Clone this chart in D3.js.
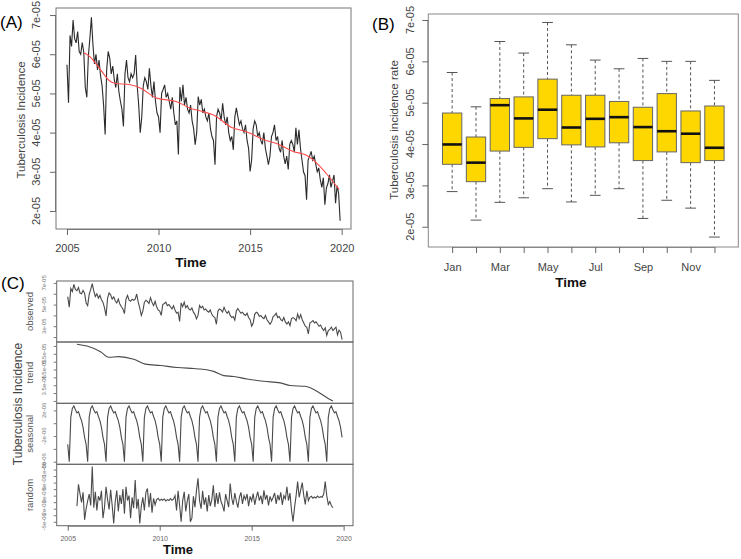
<!DOCTYPE html>
<html><head><meta charset="utf-8">
<script src="https://cdn.jsdelivr.net/npm/d3@7"></script>
<style>body{margin:0;background:#fff} text{font-family:"Liberation Sans",Arial,sans-serif}</style>
</head><body><svg id="c" width="741" height="559"></svg>
<script>
// ---------- DATA (values in units shown by names) ----------
const startYear = 2005;
// Monthly tuberculosis incidence, Jan 2005 - Dec 2019, in units of 1e-5
const observedE5 = [
 5.73,4.76,6.48,6.20,6.87,6.40,6.29,6.58,6.07,6.00,6.30,6.05,
 5.15,4.90,5.95,6.40,6.94,6.25,5.75,6.00,5.60,5.85,5.45,5.20,
 4.70,3.95,5.60,6.07,5.90,5.50,5.70,5.35,5.15,5.50,5.05,4.80,
 4.60,4.16,5.50,5.85,5.40,5.30,5.50,5.40,5.50,5.98,5.20,4.70,
 4.00,4.40,5.20,5.40,5.30,5.10,5.64,5.20,4.90,5.30,4.80,4.50,
 4.40,4.00,5.00,5.10,5.22,4.90,5.00,4.80,4.60,4.90,4.50,4.20,
 4.30,3.44,5.16,4.80,5.22,4.70,4.90,4.60,4.50,4.70,4.30,4.10,
 3.69,4.00,4.92,4.70,4.85,4.50,4.60,4.40,4.30,4.50,4.10,3.90,
 3.80,3.18,4.40,4.60,4.50,4.30,4.75,4.40,4.20,4.40,4.00,3.80,
 3.90,3.56,4.40,4.63,4.40,4.20,4.30,4.10,4.00,4.20,3.80,3.60,
 3.01,3.30,4.10,4.30,4.20,3.90,4.00,3.80,3.70,4.00,3.60,3.40,
 3.18,3.40,3.90,4.00,4.20,3.80,3.90,3.60,3.50,3.80,3.40,3.20,
 3.40,3.06,3.70,3.80,3.70,3.50,4.12,3.70,4.07,3.60,3.30,3.00,
 2.90,2.29,3.30,3.40,3.52,3.30,3.40,3.20,3.00,3.10,2.80,2.60,
 2.85,2.16,2.59,2.70,2.92,2.60,2.76,2.92,2.20,2.64,2.45,1.75
];
// Smoothed trend (red line, panel A), units 1e-5
const smoothYears = [2005.93,2006.25,2006.6,2007.0,2007.3,2007.6,2008.45,2009.0,2009.9,2011.0,2011.7,2012.3,2013.0,2014.0,2014.8,2015.7,2016.6,2017.35,2018.08,2018.6,2019.17,2019.86];
const smoothE5    = [6.04,5.94,5.75,5.50,5.33,5.26,5.22,5.14,4.88,4.79,4.63,4.55,4.45,4.13,4.02,3.83,3.69,3.52,3.42,3.24,2.95,2.55];

// Box plot by month (panel B), units 1e-5
const months = ["Jan","Feb","Mar","Apr","May","Jun","Jul","Aug","Sep","Oct","Nov","Dec"];
const monthLabelsShown = ["Jan","Mar","May","Jul","Sep","Nov"];
const boxLow    = [2.85,2.16,2.59,2.70,2.92,2.60,2.76,2.92,2.20,2.64,2.45,1.75];
const boxQ1     = [3.51,3.09,3.83,3.92,4.13,3.98,3.93,4.03,3.60,3.81,3.55,3.60];
const boxMedian = [3.99,3.55,4.94,4.62,4.83,4.40,4.61,4.65,4.41,4.31,4.25,3.91];
const boxQ3     = [4.75,4.17,5.10,5.14,5.57,5.18,5.18,5.03,4.89,5.22,4.80,4.92];
const boxHigh   = [5.73,4.90,6.48,6.20,6.94,6.40,6.03,5.82,6.07,6.00,6.00,5.54];

// Decomposition (panel C)
const trendYears = [2005.5,2006.05,2006.78,2007.23,2007.77,2008.59,2009.22,2010.03,2010.95,2011.85,2012.21,2012.93,2013.48,2014.02,2014.75,2015.65,2016.56,2017.1,2017.92,2018.55,2019.1,2019.42];
const trendE5    = [6.11,5.99,5.63,5.28,5.32,5.15,4.84,4.75,4.63,4.56,4.53,4.38,4.11,4.06,3.90,3.75,3.65,3.48,3.43,3.12,2.70,2.49];
const seasonalE6 = [-3.3,-6.0,0.9,2.3,2.7,2.1,1.6,1.8,1.05,0.4,-0.65,-2.2]; // Jan..Dec
const randomStartIndex = 6; // Jul 2005
const randomE6 = [
 -1.2,5.5,2.6,-0.1,3.0,-5.4,-2.0,0.4,2.5,-1.0,10.9,-1.7,3.2,-2.5,1.8,0.5,3.5,-4.9,-1.5,4.7,0.8,-2.2,3.8,-1.0,
 -6.5,0.2,3.6,-2.8,2.2,-0.5,4.0,-3.5,4.7,0.5,2.0,-4.9,1.5,-1.8,6.8,-2.0,1.0,-6.5,-1.2,1.5,-2.5,3.0,4.2,-1.5,
 2.8,-3.2,1.2,-0.8,0.8,1.2,0.5,0.9,0.6,1.0,0.4,0.8,0.5,1.1,0.6,0.9,2.0,-2.5,3.5,-1.0,-6.0,0.5,3.2,-2.8,
 0.4,2.5,-6.0,-4.9,1.8,-1.5,3.6,7.3,0.5,-2.0,3.5,-0.8,1.5,-2.8,2.2,-1.2,0.8,5.2,-1.5,2.8,-0.5,3.0,0.2,-1.0,
 -2.8,2.5,0.5,-1.5,5.7,1.2,-0.8,2.8,0.3,-1.7,1.5,3.0,-0.5,2.0,0.8,2.5,-1.2,1.8,0.4,2.6,-0.8,1.5,3.2,0.5,
 2.0,-0.6,3.6,0.8,2.2,-1.0,1.8,0.4,1.5,2.8,-0.5,2.2,0.6,3.0,-0.8,2.0,1.0,4.7,0.5,2.8,-2.5,-6.0,-1.5,2.0,
 6.3,1.5,3.8,6.0,2.0,-0.7,3.5,0.5,1.5,1.8,1.2,1.6,1.3,1.9,1.4,1.7,1.5,2.5,6.3,2.0,-0.7,0.2,-1.0,-1.7
];

// Axis ticks / labels
const yearTicks = [2005,2010,2015,2020];
const rateTicksE5 = [2,3,4,5,6,7];
const rateLabels = ["2e-05","3e-05","4e-05","5e-05","6e-05","7e-05"];
const obsTickE5 = [2,3,4,5,6,7], obsLabelE5 = [3,5,7], obsLabelText = ["3e-05","5e-05","7e-05"];
const trTickE5 = [2.5,3,3.5,4,4.5,5,5.5,6], trLabelE5 = [3.5,4.5,5.5], trLabelText = ["3.5e-05","4.5e-05","5.5e-05"];
const seTickE6 = [-6,-4,-2,0,2], seLabelE6 = [-6,-2,2], seLabelText = ["-6e-06","-2e-06","2e-06"];
const raTickE6 = [-6,-4,-2,0,2,4,6,8,10], raLabelE6 = [-6,-2,2,6,10], raLabelText = ["-6e-06","-2e-06","2e-06","6e-06","1e-05"];

// ---------- DRAW ----------
const svg = d3.select("#c");
svg.append("rect").attr("width",741).attr("height",559).attr("fill","#fff");
const t = i => startYear + i/12;

function rotText(g, x, y, txt, size, color, weight){
  return g.append("text").attr("transform",`translate(${x},${y}) rotate(-90)`)
    .attr("text-anchor","middle").attr("font-size",size).attr("fill",color)
    .attr("font-weight",weight||"normal").text(txt);
}

// ===== Panel A =====
{
  const x = d3.scaleLinear().domain([2004.40,2020.51]).range([56,351]);
  const y = d3.scaleLinear().domain([1.54,7.18]).range([229,8]);
  const g = svg.append("g");
  g.append("rect").attr("x",56).attr("y",8).attr("width",295).attr("height",221)
    .attr("fill","none").attr("stroke","#777").attr("stroke-width",1);
  const ln = d3.line().x((d,i)=>x(t(i))).y(d=>y(d));
  g.append("path").datum(observedE5).attr("d",ln).attr("fill","none").attr("stroke","#2a2a2a").attr("stroke-width",1.1);
  const rl = d3.line().x((d,i)=>x(smoothYears[i])).y(d=>y(d)).curve(d3.curveMonotoneX);
  g.append("path").datum(smoothE5).attr("d",rl).attr("fill","none").attr("stroke","#ff4d4d").attr("stroke-width",1.1);
  const xa = g.append("g").attr("transform","translate(0,229)")
    .call(d3.axisBottom(x).tickValues(yearTicks).tickSize(6).tickFormat(d3.format("d")));
  xa.select(".domain").attr("stroke","#777").attr("d",`M${x(2005)},0.5H${x(2020)}`);
  xa.selectAll("line").attr("stroke","#666");
  xa.selectAll("text").attr("font-size",11).attr("fill","#444").attr("dy","1.25em")
    .attr("font-family","Liberation Sans, Arial, sans-serif");
  const ya = g.append("g").attr("transform","translate(56,0)")
    .call(d3.axisLeft(y).tickValues(rateTicksE5).tickSize(6).tickFormat((d,i)=>rateLabels[i]));
  ya.select(".domain").attr("stroke","#777").attr("d",`M-0.5,${y(2)}V${y(7)}`);
  ya.selectAll("line").attr("stroke","#666");
  ya.selectAll("text").remove();
  rateTicksE5.forEach((v,i)=>rotText(g,40,y(v),rateLabels[i],11,"#444"));
  rotText(g,25,120,"Tuberculosis Incidence",11.5,"#444");
  g.append("text").attr("x",191).attr("y",267).attr("text-anchor","middle").attr("font-size",13.5)
    .attr("font-weight","bold").attr("fill","#111").text("Time");
  g.append("text").attr("x",0).attr("y",28).attr("font-size",17).attr("fill","#000").text("(A)");
}

// ===== Panel B =====
{
  const x = d3.scaleLinear().domain([0,13]).range([428.3,738.3]);
  const y = d3.scaleLinear().domain([1.51,7.145]).range([247,14]);
  const g = svg.append("g");
  g.append("rect").attr("x",428.3).attr("y",14).attr("width",310).attr("height",233)
    .attr("fill","none").attr("stroke","#888").attr("stroke-width",1);
  const bw = 0.81*(x(1)-x(0)), cw = 0.45*(x(1)-x(0));
  months.forEach((m,i)=>{
    const cx = x(i+1);
    g.append("line").attr("x1",cx).attr("x2",cx).attr("y1",y(boxHigh[i])).attr("y2",y(boxQ3[i]))
      .attr("stroke","#555").attr("stroke-dasharray","3,2.5");
    g.append("line").attr("x1",cx).attr("x2",cx).attr("y1",y(boxQ1[i])).attr("y2",y(boxLow[i]))
      .attr("stroke","#555").attr("stroke-dasharray","3,2.5");
    [boxHigh[i],boxLow[i]].forEach(v=>g.append("line").attr("x1",cx-cw/2).attr("x2",cx+cw/2)
      .attr("y1",y(v)).attr("y2",y(v)).attr("stroke","#555"));
    g.append("rect").attr("x",cx-bw/2).attr("y",y(boxQ3[i])).attr("width",bw)
      .attr("height",y(boxQ1[i])-y(boxQ3[i])).attr("fill","#FFD700").attr("stroke","#666").attr("stroke-width",1);
    g.append("line").attr("x1",cx-bw/2).attr("x2",cx+bw/2).attr("y1",y(boxMedian[i])).attr("y2",y(boxMedian[i]))
      .attr("stroke","#111").attr("stroke-width",2.6);
  });
  const xa = g.append("g").attr("transform","translate(0,247)")
    .call(d3.axisBottom(x).tickValues(d3.range(1,13)).tickSize(6).tickFormat(d=>monthLabelsShown.includes(months[d-1])?months[d-1]:""));
  xa.select(".domain").attr("stroke","#888").attr("d",`M${x(1)},0.5H${x(12)}`);
  xa.selectAll("line").attr("stroke","#666");
  xa.selectAll("text").attr("font-size",11).attr("fill","#444").attr("dy","1.35em")
    .attr("font-family","Liberation Sans, Arial, sans-serif");
  const ya = g.append("g").attr("transform","translate(428.3,0)")
    .call(d3.axisLeft(y).tickValues(rateTicksE5).tickSize(6).tickFormat(""));
  ya.select(".domain").attr("stroke","#888").attr("d",`M-0.5,${y(2)}V${y(7)}`);
  ya.selectAll("line").attr("stroke","#666");
  rateTicksE5.forEach((v,i)=>rotText(g,414,y(v),rateLabels[i],11,"#444"));
  rotText(g,398,130,"Tuberculosis incidence rate",11.5,"#444");
  g.append("text").attr("x",571).attr("y",287).attr("text-anchor","middle").attr("font-size",13.5)
    .attr("font-weight","bold").attr("fill","#111").text("Time");
  g.append("text").attr("x",372).attr("y",30).attr("font-size",17).attr("fill","#000").text("(B)");
}

// ===== Panel C =====
{
  const x = d3.scaleLinear().domain([2004.40,2020.51]).range([56.7,353]);
  const g = svg.append("g");
  const panels = [
    {name:"observed", top:281, bot:342, dom:[1.54,7.18], ticks:obsTickE5, lab:obsLabelE5, labT:obsLabelText,
     pts: observedE5.map((v,i)=>[t(i),v]), curve:d3.curveLinear},
    {name:"trend", top:342, bot:403.3, dom:[2.35,6.25], ticks:trTickE5, lab:trLabelE5, labT:trLabelText,
     pts: trendE5.map((v,i)=>[trendYears[i],v]), curve:d3.curveMonotoneX},
    {name:"seasonal", top:403.3, bot:464.3, dom:[-6.4,3.1], ticks:seTickE6, lab:seLabelE6, labT:seLabelText,
     pts: observedE5.map((v,i)=>[t(i),seasonalE6[i%12]]), curve:d3.curveLinear},
    {name:"random", top:464.3, bot:525.7, dom:[-7.2,11.6], ticks:raTickE6, lab:raLabelE6, labT:raLabelText,
     pts: randomE6.map((v,i)=>[t(i+randomStartIndex),v]), curve:d3.curveLinear}
  ];
  panels.forEach(p=>{
    const y = d3.scaleLinear().domain(p.dom).range([p.bot,p.top]);
    g.append("rect").attr("x",56.7).attr("y",p.top).attr("width",296.3).attr("height",p.bot-p.top)
      .attr("fill","none").attr("stroke","#666").attr("stroke-width",1);
    g.append("path").datum(p.pts).attr("d",d3.line().x(d=>x(d[0])).y(d=>y(d[1])).curve(p.curve))
      .attr("fill","none").attr("stroke","#4a4a4a").attr("stroke-width",1.1);
    const ya = g.append("g").attr("transform","translate(56.7,0)")
      .call(d3.axisLeft(y).tickValues(p.ticks).tickSize(3).tickFormat(""));
    ya.select(".domain").remove();
    ya.selectAll("line").attr("stroke","#777");
    p.lab.forEach((v,i)=>rotText(g,46,y(v),p.labT[i],6,"#777"));
    rotText(g,33,(p.top+p.bot)/2,p.name,9.5,"#555");
  });
  const xa = g.append("g").attr("transform","translate(0,525.7)")
    .call(d3.axisBottom(x).tickValues(yearTicks).tickSize(5).tickFormat(d3.format("d")));
  xa.select(".domain").attr("stroke","#777").attr("d",`M${x(2005)},0.5H${x(2020)}`);
  xa.selectAll("line").attr("stroke","#666");
  xa.selectAll("text").attr("font-size",7).attr("fill","#666").attr("dy","1.1em")
    .attr("font-family","Liberation Sans, Arial, sans-serif");
  rotText(g,22,404,"Tuberculosis Incidence",12,"#444");
  g.append("text").attr("x",178).attr("y",554).attr("text-anchor","middle").attr("font-size",13)
    .attr("font-weight","bold").attr("fill","#111").text("Time");
  g.append("text").attr("x",1).attr("y",289).attr("font-size",17).attr("fill","#000").text("(C)");
}
</script></body></html>
